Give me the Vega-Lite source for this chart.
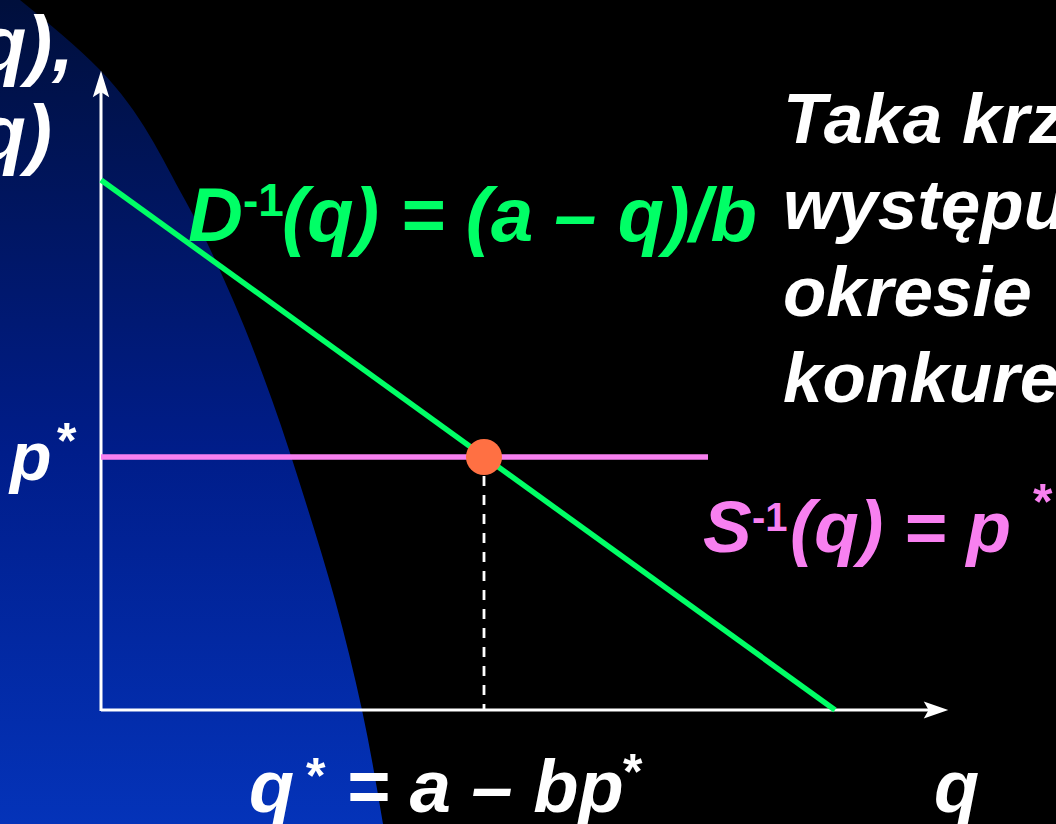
{
  "$schema": "https://vega.github.io/schema/vega-lite/v6.json",
  "width": 1056,
  "height": 824,
  "padding": 0,
  "autosize": {"type": "none"},
  "background": "#000000",
  "config": {"view": {"stroke": null}},
  "datasets": {
    "region": [
      {"q": -81, "p": 710},
      {"q": -1, "p": 640},
      {"q": 84, "p": 510},
      {"q": 132, "p": 410},
      {"q": 171, "p": 310},
      {"q": 204, "p": 210},
      {"q": 234, "p": 110},
      {"q": 261, "p": 0},
      {"q": 282, "p": -114}
    ],
    "axes": [
      {"q": 0, "p": -1, "q2": 0, "p2": 628},
      {"q": 0, "p": 0, "q2": 830, "p2": 0}
    ],
    "arrowUp": [{"q": 0, "p": 626}],
    "arrowRight": [{"q": 835, "p": 0}],
    "demand": [{"q": 0, "p": 530}, {"q": 734, "p": 0}],
    "supply": [{"q": 0, "p": 253}, {"q": 607, "p": 253}],
    "drop": [{"q": 383, "p": 253, "q2": 383, "p2": 0}],
    "eq": [{"q": 383, "p": 253}],
    "tTopLeft": [{"q": -27, "p": 639, "t": "(q),"}, {"q": -49, "p": 550, "t": "(q)"}],
    "tGreen": [{"q": 87, "p": 469, "t": "D"}, {"q": 181, "p": 469, "t": "(q) = (a – q)/b"}],
    "tGreenSup": [{"q": 142, "p": 494, "t": "-1"}],
    "tPink": [{"q": 602, "p": 158, "t": "S"}, {"q": 689, "p": 158, "t": "(q) = p"}],
    "tPinkSup": [{"q": 651, "p": 179, "t": "-1"}],
    "tPinkStar": [{"q": 932, "p": 191, "t": "*"}],
    "tWhite68": [
      {"q": -91, "p": 230, "t": "p"}
    ],
    "tRight": [
      {"q": 682, "p": 567, "t": "Taka krzywa"},
      {"q": 682, "p": 481, "t": "występuje w"},
      {"q": 682, "p": 394, "t": "okresie"},
      {"q": 682, "p": 308, "t": "konkurencji"}
    ],
    "tBottom": [
      {"q": 148, "p": -102, "t": "q"},
      {"q": 245, "p": -102, "t": "= a – bp"},
      {"q": 833, "p": -102, "t": "q"}
    ],
    "tStars": [
      {"q": -44, "p": 252, "t": "*"},
      {"q": 205, "p": -83, "t": "*"},
      {"q": 522, "p": -79, "t": "*"}
    ]
  },
  "layer": [
    {
      "data": {"name": "region"},
      "mark": {
        "type": "area",
        "orient": "horizontal",
        "interpolate": "monotone",
        "clip": true,
        "color": {
          "gradient": "linear",
          "x1": 0, "y1": 0, "x2": 0, "y2": 1,
          "stops": [
            {"offset": 0, "color": "#000F3C"},
            {"offset": 0.55, "color": "#001D8A"},
            {"offset": 1, "color": "#0433B9"}
          ]
        }
      },
      "encoding": {
        "x": {"field": "q", "type": "quantitative", "stack": null, "scale": {"domain": [-101, 955], "nice": false, "zero": false}, "axis": null},
        "x2": {"datum": -101},
        "y": {"field": "p", "type": "quantitative", "scale": {"domain": [-114, 710], "nice": false, "zero": false}, "axis": null}
      }
    },
    {
      "data": {"name": "axes"},
      "mark": {"type": "rule", "color": "#FFFFFF", "strokeWidth": 3},
      "encoding": {
        "x": {"field": "q", "type": "quantitative"},
        "y": {"field": "p", "type": "quantitative"},
        "x2": {"field": "q2"},
        "y2": {"field": "p2"}
      }
    },
    {
      "data": {"name": "arrowUp"},
      "mark": {"type": "point", "shape": "M0,-1L0.62,1L0,0.6L-0.62,1Z", "size": 700, "filled": true, "color": "#FFFFFF", "opacity": 1, "strokeWidth": 0},
      "encoding": {
        "x": {"field": "q", "type": "quantitative"},
        "y": {"field": "p", "type": "quantitative"}
      }
    },
    {
      "data": {"name": "arrowRight"},
      "mark": {"type": "point", "shape": "M1,0L-1,-0.7L-0.6,0L-1,0.7Z", "size": 600, "filled": true, "color": "#FFFFFF", "opacity": 1, "strokeWidth": 0},
      "encoding": {
        "x": {"field": "q", "type": "quantitative"},
        "y": {"field": "p", "type": "quantitative"}
      }
    },
    {
      "data": {"name": "demand"},
      "mark": {"type": "line", "color": "#00FF66", "strokeWidth": 5.5},
      "encoding": {
        "x": {"field": "q", "type": "quantitative"},
        "y": {"field": "p", "type": "quantitative"}
      }
    },
    {
      "data": {"name": "supply"},
      "mark": {"type": "line", "color": "#F880F0", "strokeWidth": 5.5},
      "encoding": {
        "x": {"field": "q", "type": "quantitative"},
        "y": {"field": "p", "type": "quantitative"}
      }
    },
    {
      "data": {"name": "drop"},
      "mark": {"type": "rule", "color": "#FFFFFF", "strokeWidth": 2.8, "strokeDash": [10, 9]},
      "encoding": {
        "x": {"field": "q", "type": "quantitative"},
        "y": {"field": "p", "type": "quantitative"},
        "x2": {"field": "q2"},
        "y2": {"field": "p2"}
      }
    },
    {
      "data": {"name": "eq"},
      "mark": {"type": "point", "shape": "circle", "size": 1300, "filled": true, "color": "#FF7043", "opacity": 1, "strokeWidth": 0},
      "encoding": {
        "x": {"field": "q", "type": "quantitative"},
        "y": {"field": "p", "type": "quantitative"}
      }
    },
    {
      "data": {"name": "tTopLeft"},
      "mark": {"type": "text", "align": "right", "baseline": "alphabetic", "font": "Liberation Sans", "fontSize": 78, "fontStyle": "italic", "fontWeight": "bold", "color": "#FFFFFF", "clip": true},
      "encoding": {
        "x": {"field": "q", "type": "quantitative"},
        "y": {"field": "p", "type": "quantitative"},
        "text": {"field": "t"}
      }
    },
    {
      "data": {"name": "tGreen"},
      "mark": {"type": "text", "align": "left", "baseline": "alphabetic", "font": "Liberation Sans", "fontSize": 76, "fontStyle": "italic", "fontWeight": "bold", "color": "#00FF66"},
      "encoding": {
        "x": {"field": "q", "type": "quantitative"},
        "y": {"field": "p", "type": "quantitative"},
        "text": {"field": "t"}
      }
    },
    {
      "data": {"name": "tGreenSup"},
      "mark": {"type": "text", "align": "left", "baseline": "alphabetic", "font": "Liberation Sans", "fontSize": 46, "fontWeight": "bold", "color": "#00FF66"},
      "encoding": {
        "x": {"field": "q", "type": "quantitative"},
        "y": {"field": "p", "type": "quantitative"},
        "text": {"field": "t"}
      }
    },
    {
      "data": {"name": "tPink"},
      "mark": {"type": "text", "align": "left", "baseline": "alphabetic", "font": "Liberation Sans", "fontSize": 73, "fontStyle": "italic", "fontWeight": "bold", "color": "#F880F0"},
      "encoding": {
        "x": {"field": "q", "type": "quantitative"},
        "y": {"field": "p", "type": "quantitative"},
        "text": {"field": "t"}
      }
    },
    {
      "data": {"name": "tPinkSup"},
      "mark": {"type": "text", "align": "left", "baseline": "alphabetic", "font": "Liberation Sans", "fontSize": 40, "fontWeight": "bold", "color": "#F880F0"},
      "encoding": {
        "x": {"field": "q", "type": "quantitative"},
        "y": {"field": "p", "type": "quantitative"},
        "text": {"field": "t"}
      }
    },
    {
      "data": {"name": "tPinkStar"},
      "mark": {"type": "text", "align": "left", "baseline": "alphabetic", "font": "Liberation Sans", "fontSize": 50, "fontWeight": "bold", "color": "#F880F0", "clip": true},
      "encoding": {
        "x": {"field": "q", "type": "quantitative"},
        "y": {"field": "p", "type": "quantitative"},
        "text": {"field": "t"}
      }
    },
    {
      "data": {"name": "tWhite68"},
      "mark": {"type": "text", "align": "left", "baseline": "alphabetic", "font": "Liberation Sans", "fontSize": 68, "fontStyle": "italic", "fontWeight": "bold", "color": "#FFFFFF", "clip": true},
      "encoding": {
        "x": {"field": "q", "type": "quantitative"},
        "y": {"field": "p", "type": "quantitative"},
        "text": {"field": "t"}
      }
    },
    {
      "data": {"name": "tRight"},
      "mark": {"type": "text", "align": "left", "baseline": "alphabetic", "font": "Liberation Sans", "fontSize": 71, "fontStyle": "italic", "fontWeight": "bold", "color": "#FFFFFF", "clip": true},
      "encoding": {
        "x": {"field": "q", "type": "quantitative"},
        "y": {"field": "p", "type": "quantitative"},
        "text": {"field": "t"}
      }
    },
    {
      "data": {"name": "tBottom"},
      "mark": {"type": "text", "align": "left", "baseline": "alphabetic", "font": "Liberation Sans", "fontSize": 74, "fontStyle": "italic", "fontWeight": "bold", "color": "#FFFFFF", "clip": true},
      "encoding": {
        "x": {"field": "q", "type": "quantitative"},
        "y": {"field": "p", "type": "quantitative"},
        "text": {"field": "t"}
      }
    },
    {
      "data": {"name": "tStars"},
      "mark": {"type": "text", "align": "left", "baseline": "alphabetic", "font": "Liberation Sans", "fontSize": 50, "fontWeight": "bold", "color": "#FFFFFF"},
      "encoding": {
        "x": {"field": "q", "type": "quantitative"},
        "y": {"field": "p", "type": "quantitative"},
        "text": {"field": "t"}
      }
    }
  ]
}
